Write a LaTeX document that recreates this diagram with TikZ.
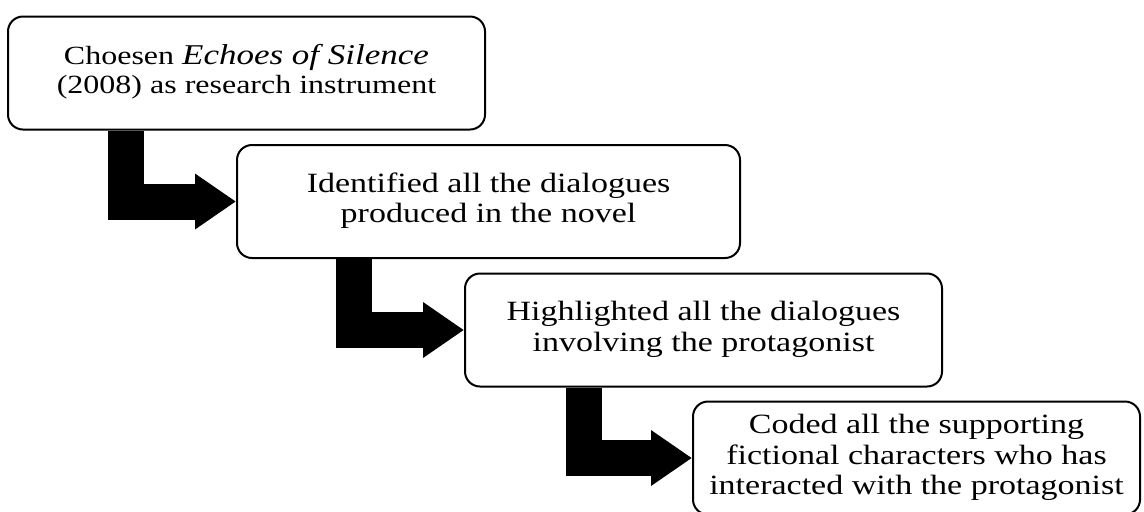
\documentclass[tikz,border=0pt]{standalone}
\usepackage{fontspec}
\setmainfont{Liberation Serif}
\usepackage{tikz}
\usetikzlibrary{arrows.meta}
\newcommand{\boxtext}[1]{\scalebox{1}[0.82]{\begin{tabular}{@{}c@{}}#1\end{tabular}}}

\begin{document}
\begin{tikzpicture}[x = .5pt, y = -.5pt,
		stepbox/.style = {draw=black, line width=1pt, fill=white, rounded corners=7.5pt,
			inner sep=0pt, minimum height=56.5pt, font=\fontsize{17}{18.5}\selectfont},
		elbowarrow/.style = {draw=black, line width=18pt, line join=miter, line cap=butt,
			-{Triangle[length=20.5pt, width=26.5pt]}}]
				\useasboundingbox (0,0) rectangle (1144,511);
				\node[stepbox, minimum width=238.5pt, font=\fontsize{16}{18}\selectfont] (choose) at (246.5,73)
					{\boxtext{Choesen {\fontsize{17.5}{18}\selectfont\itshape Echoes of Silence}\\(2008) as research instrument}};
				\node[stepbox, minimum width=251.5pt] (identify) at (488.5,201.5)
					{\boxtext{Identified all the dialogues\\produced in the novel}};
				\node[stepbox, minimum width=238.5pt] (highlight) at (703.5,330)
					{\boxtext{Highlighted all the dialogues\\involving the protagonist}};
				\node[stepbox, minimum width=223.5pt] (code) at (916.5,458)
					{\boxtext{Coded all the supporting\\fictional characters who has\\interacted with the protagonist}};
				\draw[elbowarrow] ([xshift=59.5pt]choose.south west) |- (identify.west);
				\draw[elbowarrow] ([xshift=59pt]identify.south west) |- (highlight.west);
				\draw[elbowarrow] ([xshift=60pt]highlight.south west) |- (code.west);
			\end{tikzpicture}
\end{document}
